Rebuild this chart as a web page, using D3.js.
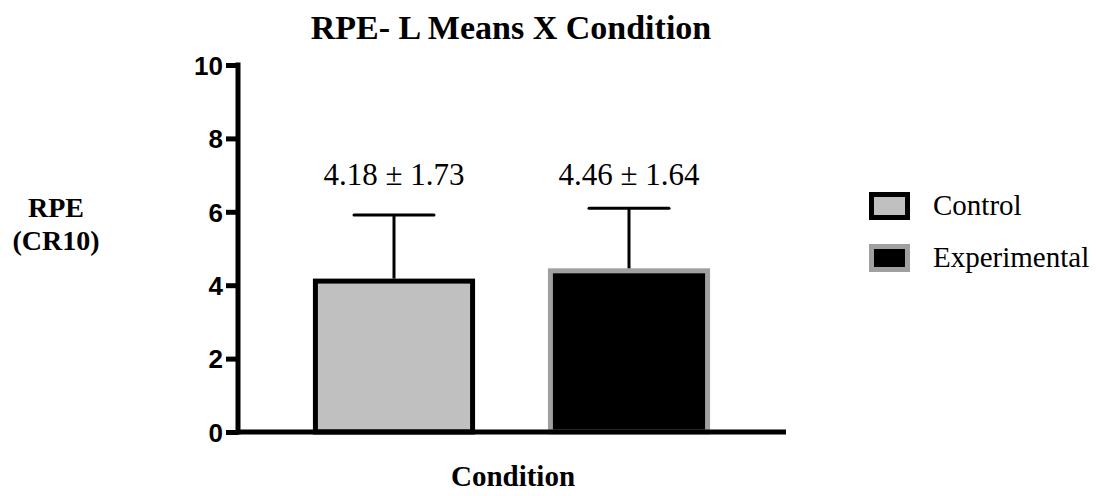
<!DOCTYPE html>
<html>
<head>
<meta charset="utf-8">
<script src="https://cdn.jsdelivr.net/npm/d3@7"></script>
<style>
  body { margin: 0; background: #fff; }
  svg { display: block; }
</style>
</head>
<body>
<svg id="chart" width="1096" height="496"></svg>
<script>
// RPE-L means by condition, with SD error bars
const conditions = ["Control", "Experimental"];
const means = [4.18, 4.46];
const sds = [1.73, 1.64];
const yTicks = [0, 2, 4, 6, 8, 10];
const fills = ["#c0c0c0", "#000000"];
const strokes = ["#000000", "#a0a0a0"];

const svg = d3.select("#chart");
const serif = "'Liberation Serif', 'Times New Roman', serif";
const sans = "'Liberation Sans', Arial, sans-serif";

const y = d3.scaleLinear().domain([0, 10]).range([432, 65]);
const x = d3.scaleBand().domain(conditions)
  .range([276.5, 746.5]).paddingInner(0.31).paddingOuter(0.155);

const axisX0 = 238, axisX1 = 786;

// Title
svg.append("text").attr("x", 511).attr("y", 39)
  .attr("text-anchor", "middle").attr("font-family", serif)
  .attr("font-weight", "bold").attr("font-size", 34)
  .text("RPE- L Means X Condition");

// Bars
const bw = 5;
svg.selectAll("rect.bar").data(conditions).join("rect")
  .attr("class", "bar")
  .attr("x", d => x(d) + bw / 2)
  .attr("width", x.bandwidth() - bw)
  .attr("y", (d, i) => y(means[i]) + bw / 2)
  .attr("height", (d, i) => y(0) - y(means[i]) - bw / 2)
  .attr("fill", (d, i) => fills[i])
  .attr("stroke", (d, i) => strokes[i])
  .attr("stroke-width", bw);

// Error bars (upper only)
const cap = 80;
conditions.forEach((c, i) => {
  const cx = x(c) + x.bandwidth() / 2;
  const top = y(means[i] + sds[i]);
  svg.append("line").attr("x1", cx).attr("x2", cx)
    .attr("y1", y(means[i])).attr("y2", top)
    .attr("stroke", "#000").attr("stroke-width", 3);
  svg.append("line").attr("x1", cx - cap / 2).attr("x2", cx + cap / 2)
    .attr("y1", top).attr("y2", top)
    .attr("stroke", "#000").attr("stroke-width", 3).attr("stroke-linecap", "round");
  svg.append("text").attr("x", cx).attr("y", 185)
    .attr("text-anchor", "middle").attr("font-family", serif)
    .attr("font-size", 31)
    .text(`${means[i].toFixed(2)} \u00b1 ${sds[i].toFixed(2)}`);
});

// Y axis
const yAxis = svg.append("g").attr("transform", `translate(${axisX0},0)`)
  .call(d3.axisLeft(y).tickValues(yTicks).tickSize(12).tickPadding(3).tickFormat(d3.format("d")));
yAxis.select(".domain").remove();
yAxis.append("line").attr("x1", 0).attr("x2", 0)
  .attr("y1", y(10) - 2.5).attr("y2", y(0) + 2.5)
  .attr("stroke", "#000").attr("stroke-width", 5);
yAxis.selectAll(".tick line").attr("stroke", "#000").attr("stroke-width", 5);
yAxis.selectAll(".tick text").attr("font-family", sans)
  .attr("font-weight", "bold").attr("font-size", 26).attr("fill", "#000")
  .attr("dy", "0.36em");

// X axis baseline
svg.append("line").attr("x1", axisX0).attr("x2", axisX1)
  .attr("y1", y(0)).attr("y2", y(0))
  .attr("stroke", "#000").attr("stroke-width", 5);

// Axis titles
svg.append("text").attr("x", 513).attr("y", 486)
  .attr("text-anchor", "middle").attr("font-family", serif)
  .attr("font-weight", "bold").attr("font-size", 29).text("Condition");
const yl = svg.append("text").attr("text-anchor", "middle")
  .attr("font-family", serif).attr("font-weight", "bold").attr("font-size", 28);
yl.append("tspan").attr("x", 56).attr("y", 217).text("RPE");
yl.append("tspan").attr("x", 56).attr("y", 250).text("(CR10)");

// Legend
const leg = svg.append("g");
conditions.forEach((c, i) => {
  const ly = 192 + i * 52;
  leg.append("rect").attr("x", 869 + bw / 2).attr("y", ly + bw / 2)
    .attr("width", 41 - bw).attr("height", 28 - bw)
    .attr("fill", fills[i]).attr("stroke", strokes[i]).attr("stroke-width", bw);
  leg.append("text").attr("x", 933).attr("y", ly + 23)
    .attr("font-family", serif).attr("font-size", 29).text(c);
});
</script>
</body>
</html>
